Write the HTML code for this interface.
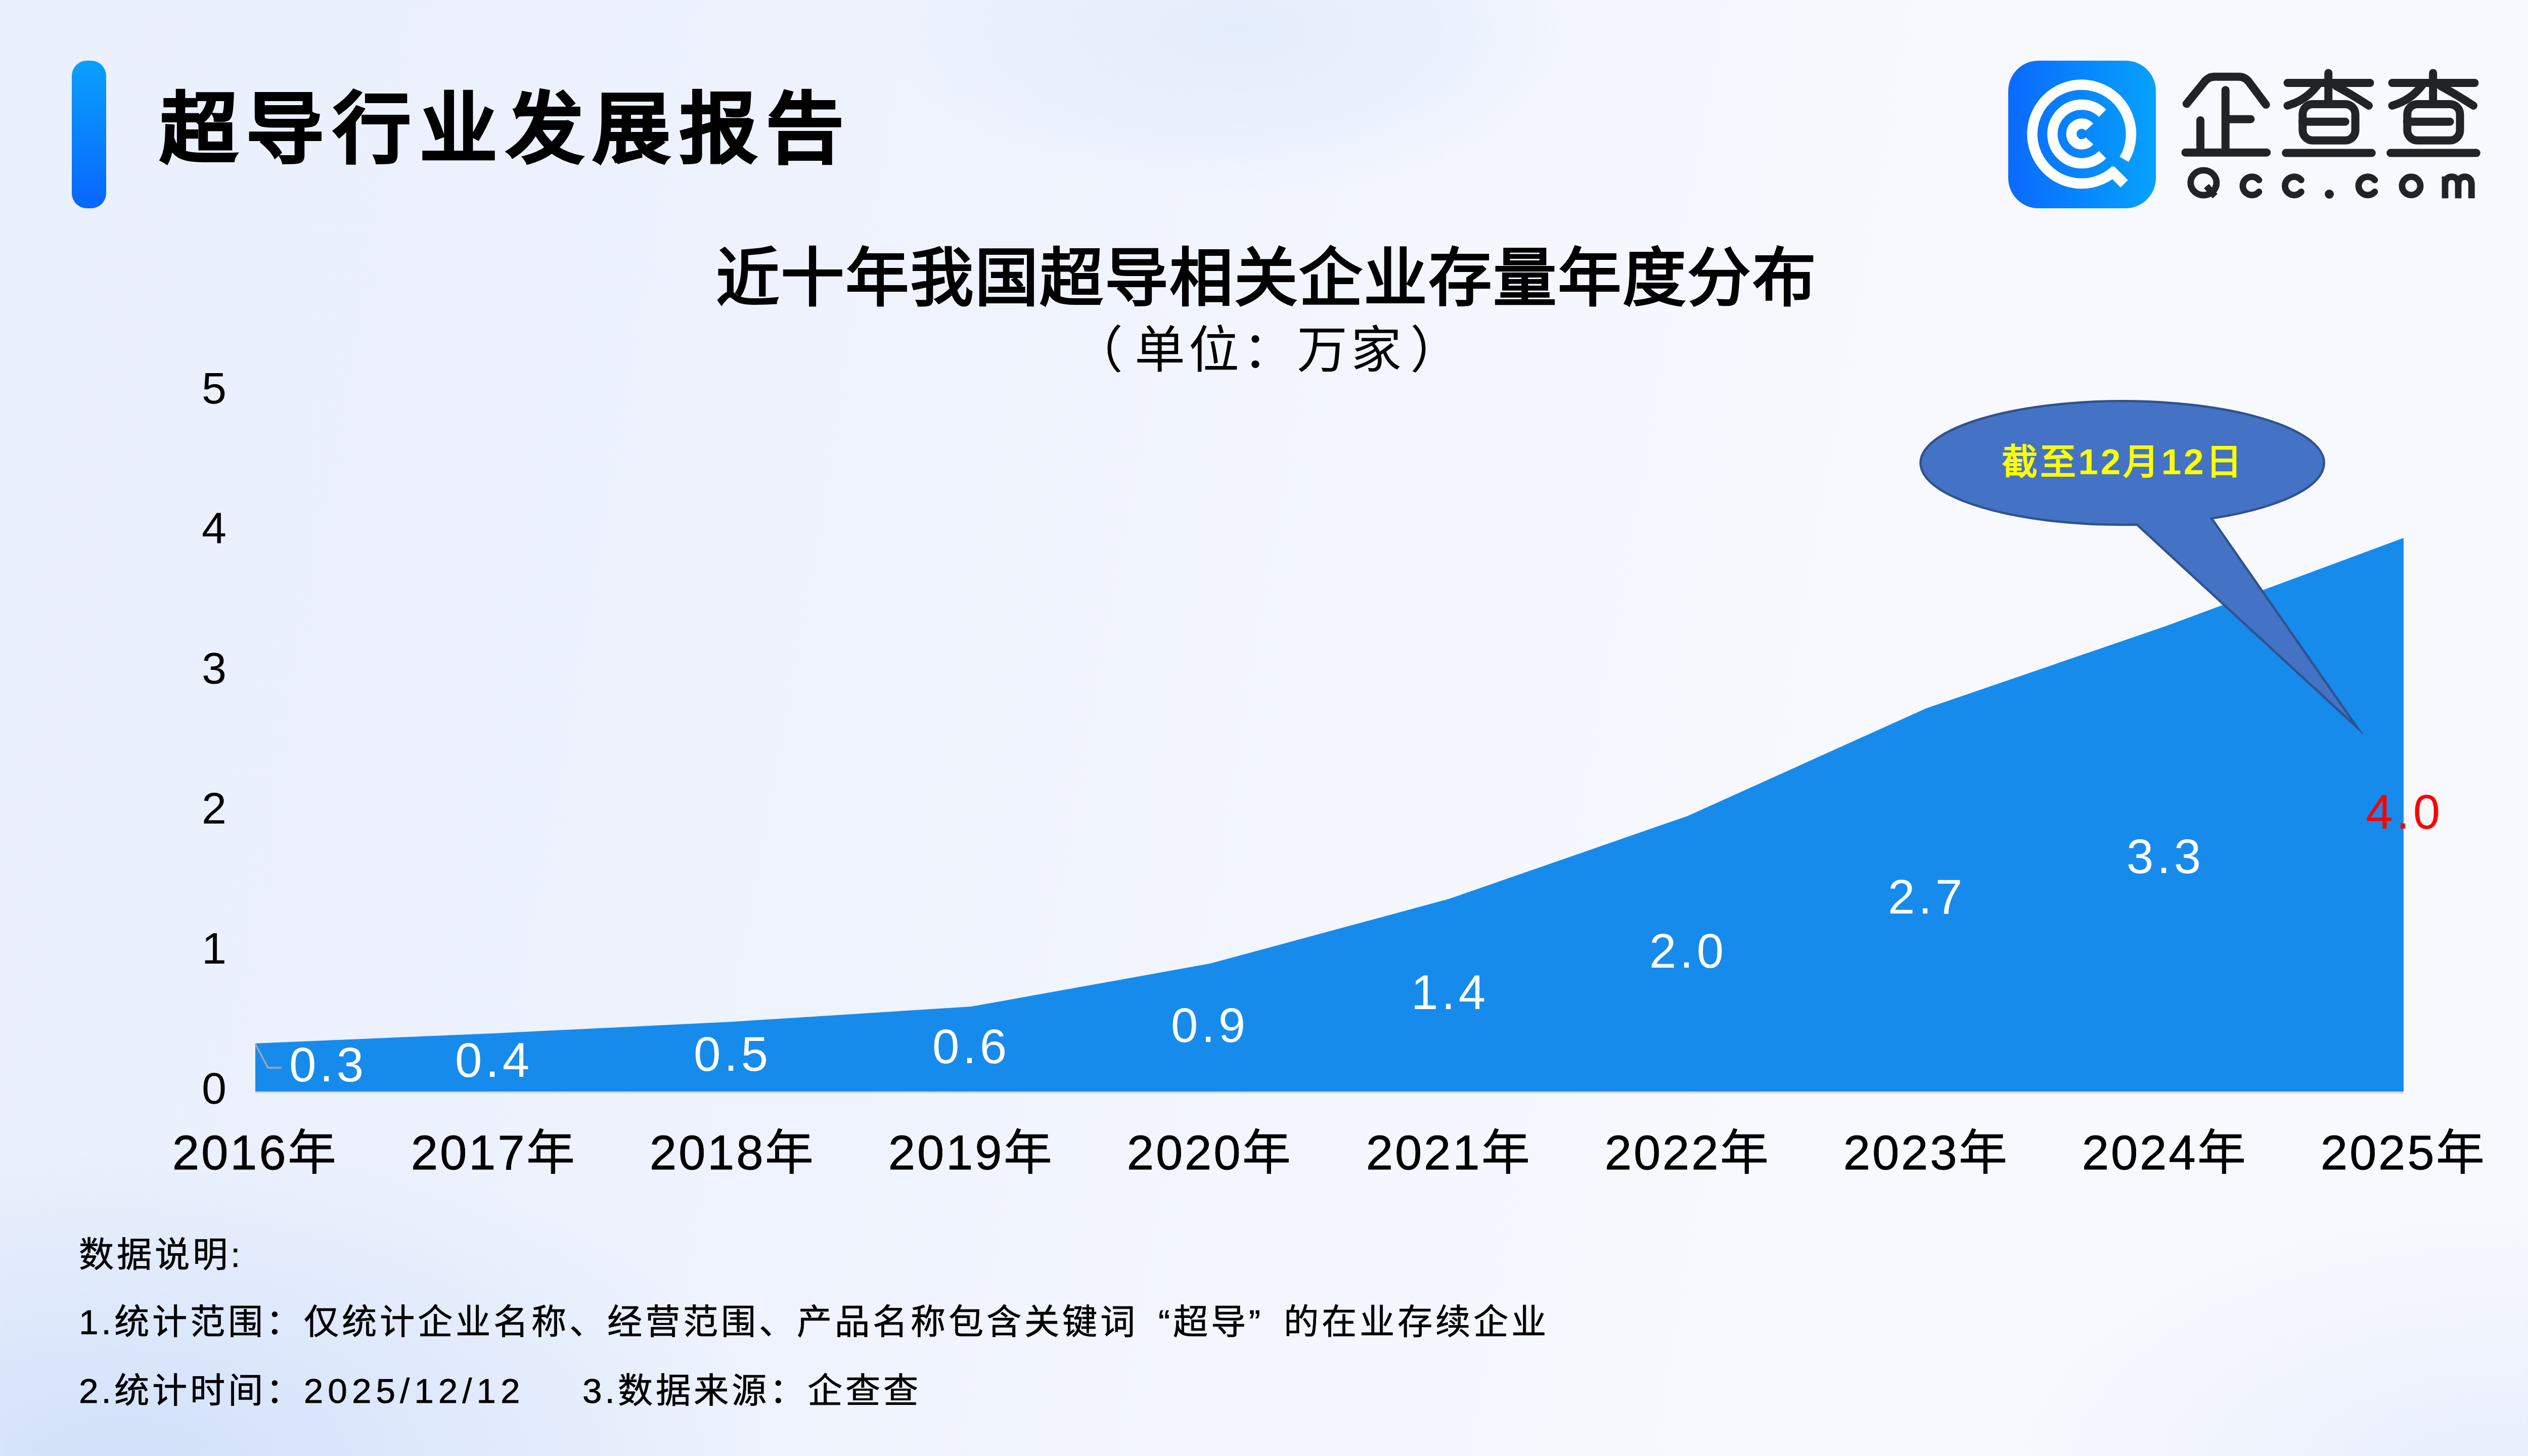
<!DOCTYPE html>
<html lang="zh-CN">
<head>
<meta charset="utf-8">
<style>
html,body{margin:0;padding:0;}
body{width:5120px;height:2880px;overflow:hidden;position:relative;font-family:"Liberation Sans",sans-serif;color:#000;
background:
 radial-gradient(ellipse 1300px 650px at 250px 2900px, rgba(208,224,250,0.95), rgba(208,224,250,0) 100%),
 radial-gradient(ellipse 1000px 560px at 4950px 2950px, rgba(226,235,252,0.8), rgba(226,235,252,0) 100%),
 radial-gradient(ellipse 700px 330px at 2450px 60px, rgba(228,237,252,0.95), rgba(228,237,252,0.6) 55%, rgba(228,237,252,0) 100%),
 linear-gradient(100deg,#eaf0fc 0%,#edf2fd 30%,#f3f6fe 52%,#f7f9fe 72%,#f8f9fe 100%);}
.abs{position:absolute;white-space:nowrap;}
#bar{left:142px;top:120px;width:68px;height:292px;border-radius:30px;background:linear-gradient(180deg,#0aa0fc,#0866fd);}
#title{left:316px;top:166px;font-size:153.6px;line-height:180px;font-weight:700;-webkit-text-stroke:3px #000;letter-spacing:17.3px;}
#ctitle{left:1416px;top:476px;font-size:125.8px;line-height:150px;font-weight:700;letter-spacing:2.1px;}
#csub{left:2121px;top:632px;font-size:100px;line-height:120px;letter-spacing:7px;}
#csub .m{margin:0 10px 0 16px;}
.yl{font-size:88px;line-height:100px;width:100px;text-align:right;left:348px;}
.xl{font-size:96px;line-height:100px;width:400px;text-align:center;letter-spacing:3.8px;-webkit-text-stroke:0.8px #000;}
.dl{font-size:96px;line-height:100px;width:300px;text-align:center;color:#fff;letter-spacing:6.9px;}
#callt{left:3909px;width:580px;text-align:center;top:864px;font-size:71px;line-height:100px;font-weight:700;color:#ffff00;letter-spacing:4.7px;}
.ft{left:156px;font-size:69.3px;line-height:90px;letter-spacing:6.0px;-webkit-text-stroke:0.7px #000;}
.q{display:inline-block;width:1em;}
.ql{text-align:right;}
</style>
</head>
<body>
<div class="abs" id="bar"></div>
<div class="abs" id="title">超导行业发展报告</div>

<div class="abs" id="ctitle">近十年我国超导相关企业存量年度分布</div>
<div class="abs" id="csub">（<span class="m">单位：万家</span>）</div>

<svg class="abs" style="left:0;top:0" width="5120" height="2880" viewBox="0 0 5120 2880">
  <polygon fill="#168bec" points="505,2064 977,2044 1449,2021 1921,1991 2393,1906 2866,1778 3338,1614 3810,1401 4282,1239 4754,1064 4754,2159 505,2159"/>
  <rect x="505" y="2159" width="4249" height="4" fill="#d9d9d9"/>
  <polyline points="505,2065 530,2112 557,2112" fill="none" stroke="#a6a6a6" stroke-width="3.3"/>
  <!-- callout -->
  <path d="M4374.2,1025.4 A399 122.3 0 1 0 4226.5,1037.7 L4663,1440 Z" fill="#4472c4" stroke="#2f528f" stroke-width="4.5" stroke-miterlimit="30"/>
  <!-- logo icon -->
  <defs>
    <linearGradient id="lg" x1="0" y1="0" x2="1" y2="0">
      <stop offset="0" stop-color="#0a6afd"/>
      <stop offset="1" stop-color="#06a2fc"/>
    </linearGradient>
  </defs>
  <g transform="translate(3972,120)">
    <rect x="0" y="0" width="292" height="292" rx="60" ry="60" fill="url(#lg)"/>
    <g fill="none" stroke="#fff" stroke-width="20.5">
      <path id="ring" d="M212.8,215.9 A97.7,97.7 0 1 1 229.2,195.3"/>
      <path id="cmid" d="M186.5,186.0 A58,58 0 1 1 186.5,104.0"/>
      <path id="cin" d="M160.7,158.7 A20.5,20.5 0 1 1 160.7,131.3"/>
      <line x1="202" y1="216" x2="229.5" y2="243.5"/>
    </g>
  </g>
  <!-- logo text -->
  <g fill="none" stroke="#222326" stroke-width="16" stroke-linecap="round" stroke-linejoin="round">
    <path d="M4324.8,205.4 L4360,162 Q4368,151.8 4380,151.8 L4428,151.8 Q4440,151.8 4448,162 L4481.7,207"/>
    <path d="M4401.7,178.2 L4401.7,301.7 M4401.7,235.7 L4451.4,235.7 M4352,238 L4352,301.7 M4322.5,301.7 L4483.2,301.7"/>
    <g id="cha">
      <path d="M4524.5,164 L4687.5,164 M4605.2,144.5 L4605.2,198 M4584,168 Q4562,198 4524.5,208.9 M4620.7,170.5 Q4650,186 4685,208.9 M4553.8,240.7 L4638.6,240.7 M4521.2,302.6 L4690.8,302.6"/>
      <rect x="4554.3" y="206" width="104.2" height="71.7" rx="20" ry="20"/>
    </g>
    <use href="#cha" transform="translate(207,0)"/>
  </g>
  <g fill="none" stroke="#222326" stroke-width="12.8">
    <ellipse cx="4358.3" cy="361.4" rx="25.6" ry="24.6"/>
    <line x1="4364" y1="368" x2="4381" y2="388"/>
    <path id="c1" d="M4467.9,379.3 A18.1,18.1 0 1 1 4467.9,356.1" stroke-linecap="round"/>
    <path id="c2" d="M4551.4,379.3 A18.1,18.1 0 1 1 4551.4,356.1" stroke-linecap="round"/>
    <path id="c3" d="M4696.9,379.3 A18.1,18.1 0 1 1 4696.9,356.1" stroke-linecap="round"/>
    <circle cx="4769" cy="367.7" r="18.1"/>
    <path d="M4836,392.2 L4836,349 M4836,364 C4836,354 4842,349.7 4849,349.7 C4856,349.7 4862,354 4862,364 L4862,392.2 M4862,364 C4862,354 4868,349.7 4875,349.7 C4882,349.7 4888.3,354 4888.3,364 L4888.3,392.2"/>
  </g>
  <circle cx="4607" cy="384" r="9" fill="#222326"/>
</svg>
<div class="abs" id="callt">截至12月12日</div>

<div class="abs yl" style="top:718px">5</div>
<div class="abs yl" style="top:995px">4</div>
<div class="abs yl" style="top:1272px">3</div>
<div class="abs yl" style="top:1549px">2</div>
<div class="abs yl" style="top:1826px">1</div>
<div class="abs yl" style="top:2103px">0</div>

<div class="abs dl" style="left:499px;top:2056px">0.3</div>
<div class="abs dl" style="left:827px;top:2047px">0.4</div>
<div class="abs dl" style="left:1299px;top:2035px">0.5</div>
<div class="abs dl" style="left:1771px;top:2020px">0.6</div>
<div class="abs dl" style="left:2243px;top:1978px">0.9</div>
<div class="abs dl" style="left:2718px;top:1913px">1.4</div>
<div class="abs dl" style="left:3189px;top:1831px">2.0</div>
<div class="abs dl" style="left:3661px;top:1724px">2.7</div>
<div class="abs dl" style="left:4133px;top:1644px">3.3</div>
<div class="abs dl" style="left:4606px;top:1556px;color:#ff0000">4.0</div>

<div class="abs xl" style="left:305px;top:2230px">2016年</div>
<div class="abs xl" style="left:777px;top:2230px">2017年</div>
<div class="abs xl" style="left:1249px;top:2230px">2018年</div>
<div class="abs xl" style="left:1721px;top:2230px">2019年</div>
<div class="abs xl" style="left:2193px;top:2230px">2020年</div>
<div class="abs xl" style="left:2666px;top:2230px">2021年</div>
<div class="abs xl" style="left:3138px;top:2230px">2022年</div>
<div class="abs xl" style="left:3610px;top:2230px">2023年</div>
<div class="abs xl" style="left:4082px;top:2230px">2024年</div>
<div class="abs xl" style="left:4554px;top:2230px">2025年</div>

<div class="abs ft" style="top:2437px">数据说明:</div>
<div class="abs ft" style="top:2570px">1.统计范围：仅统计企业名称、经营范围、产品名称包含关键词<span class="q ql">“</span>超导<span class="q">”</span>的在业存续企业</div>
<div class="abs ft" style="top:2706px">2.统计时间：<span style="letter-spacing:9px">2025/12/12</span></div>
<div class="abs ft" style="top:2706px;left:1152px">3.数据来源：企查查</div>

</body>
</html>
